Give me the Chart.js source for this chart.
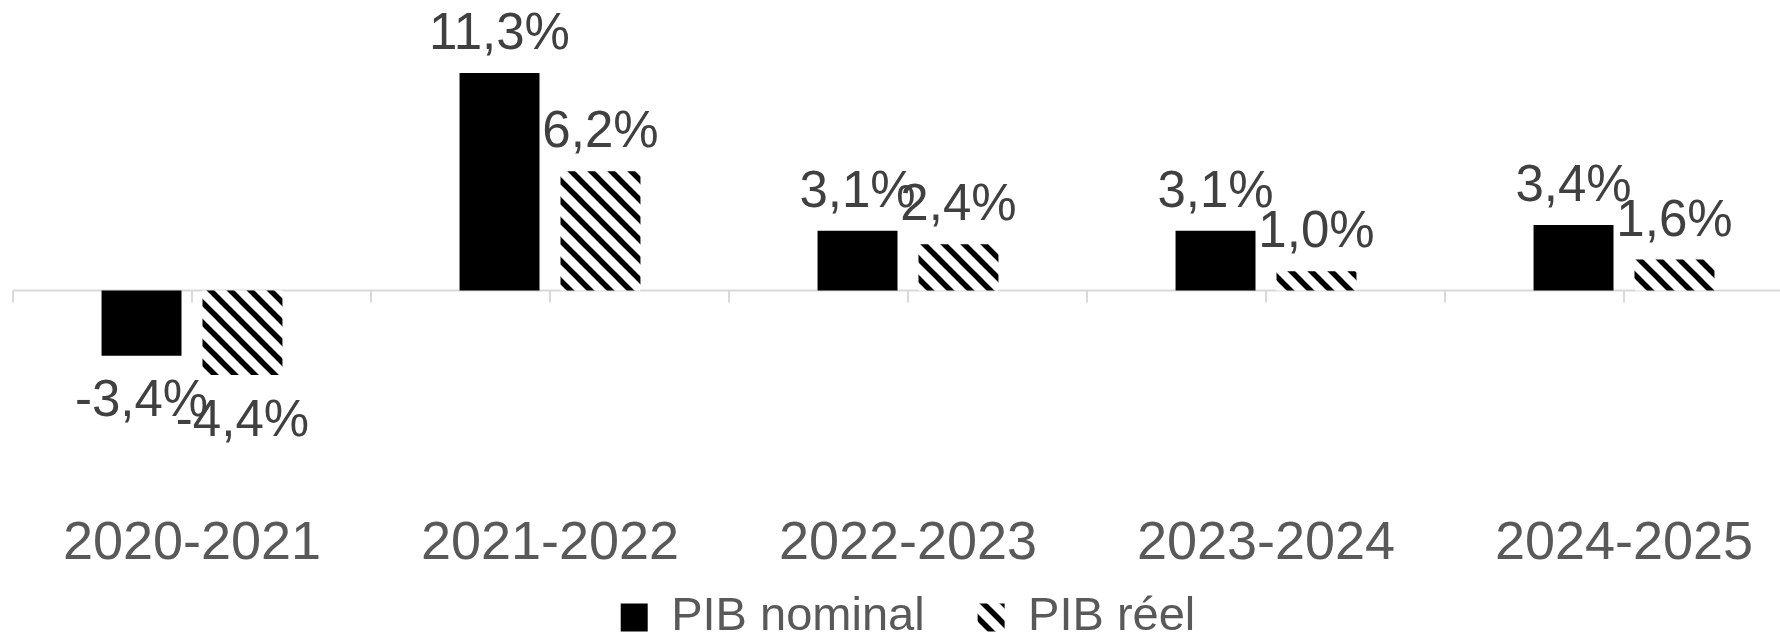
<!DOCTYPE html>
<html>
<head>
<meta charset="utf-8">
<script src="https://cdn.jsdelivr.net/npm/chart.js@4.4.1/dist/chart.umd.min.js"></script>
<style>
  html, body { margin: 0; padding: 0; background: #fff; overflow: hidden; }
  #wrap { width: 1803px; height: 637px; }
</style>
</head>
<body>
<div id="wrap"><canvas id="pibChart"></canvas></div>
<script>
const periods = ['2020-2021', '2021-2022', '2022-2023', '2023-2024', '2024-2025'];
const pibNominal = [-3.4, 11.3, 3.1, 3.1, 3.4];
const pibReel = [-4.4, 6.2, 2.4, 1.0, 1.6];
const seriesNames = ['PIB nominal', 'PIB réel'];

const FONT = '"Liberation Sans", Arial, sans-serif';

// hachures "\\\" pour le PIB réel
function makeHatch() {
    const size = 20;
    const c = document.createElement('canvas');
    c.width = size;
    c.height = size;
    const g = c.getContext('2d');
    g.fillStyle = '#fff';
    g.fillRect(0, 0, size, size);
    g.strokeStyle = '#000';
    g.lineWidth = 5.5;
    g.beginPath();
    g.moveTo(-5, -5); g.lineTo(size + 5, size + 5);
    g.moveTo(-5, size - 5); g.lineTo(5, size + 5);
    g.moveTo(size - 5, -5); g.lineTo(size + 5, 5);
    g.stroke();
    return g.createPattern(c, 'repeat');
}

function fmt(v) {
    return v.toFixed(1).replace('.', ',') + '%';
}

// ligne du zéro + petites graduations
const zeroAxis = {
    id: 'zeroAxis',
    beforeDatasetsDraw(chart) {
        const ctx = chart.ctx;
        const xs = chart.scales.x;
        const y0 = chart.scales.y.getPixelForValue(0);
        const half = (xs.getPixelForValue(1) - xs.getPixelForValue(0)) / 2;
        ctx.save();
        ctx.strokeStyle = '#d9d9d9';
        ctx.lineWidth = 2;
        ctx.beginPath();
        ctx.moveTo(chart.chartArea.left, y0);
        ctx.lineTo(chart.chartArea.right, y0);
        for (let i = 0; i < periods.length; i++) {
            const p = xs.getPixelForValue(i);
            ctx.moveTo(p - half, y0);
            ctx.lineTo(p - half, y0 + 12);
            ctx.moveTo(p, y0);
            ctx.lineTo(p, y0 + 12);
        }
        const last = xs.getPixelForValue(periods.length - 1) + half;
        ctx.moveTo(last, y0);
        ctx.lineTo(last, y0 + 12);
        ctx.stroke();
        ctx.restore();
    }
};

const valueLabels = {
    id: 'valueLabels',
    afterDatasetsDraw(chart) {
        const ctx = chart.ctx;
        const size = 51;
        ctx.save();
        ctx.font = size + 'px ' + FONT;
        ctx.fillStyle = '#404040';
        ctx.textAlign = 'center';
        ctx.textBaseline = 'alphabetic';
        chart.data.datasets.forEach((ds, di) => {
            chart.getDatasetMeta(di).data.forEach((bar, i) => {
                const v = ds.data[i];
                const y = v >= 0 ? bar.y - 24 : bar.y + 24 + size * 0.716;
                ctx.fillText(fmt(v), bar.x, y);
            });
        });
        ctx.restore();
    }
};

// la légende prend moins de place en hauteur (le padding sert surtout à espacer les items)
const legendPlace = {
    id: 'legendPlace',
    beforeLayout(chart) {
        const lg = chart.legend;
        if (lg && !lg._patched) {
            const fit = lg.fit;
            lg.fit = function () {
                fit.call(this);
                this.height = 60;
            };
            lg._patched = true;
        }
    },
    afterLayout(chart) {
        const lg = chart.legend;
        if (lg) {
            lg.top -= 36;
        }
    }
};

const ctx = document.getElementById('pibChart').getContext('2d');
const hatch = makeHatch();

window.pibChart = new Chart(ctx, {
    type: 'bar',
    data: {
        labels: periods,
        datasets: [
            {
                label: seriesNames[0],
                data: pibNominal,
                backgroundColor: '#000',
                borderWidth: 0
            },
            {
                label: seriesNames[1],
                data: pibReel,
                backgroundColor: hatch,
                borderWidth: 0
            }
        ]
    },
    options: {
        responsive: true,
        maintainAspectRatio: false,
        animation: false,
        categoryPercentage: 0.564,
        barPercentage: 0.792,
        layout: { padding: { left: 13, right: 0, top: 0, bottom: 0 } },
        plugins: {
            tooltip: { enabled: false },
            legend: {
                position: 'bottom',
                labels: {
                    boxWidth: 27,
                    boxHeight: 28,
                    padding: 53,
                    color: '#595959',
                    font: { family: FONT, size: 47 }
                }
            }
        },
        scales: {
            x: {
                grid: { display: false, drawTicks: false },
                border: { display: false },
                ticks: {
                    color: '#595959',
                    padding: 12,
                    font: { family: FONT, size: 54 }
                },
                afterFit(scale) { scale.height = 77; }
            },
            y: {
                display: false,
                min: -10.9,
                max: 15.1
            }
        }
    },
    plugins: [zeroAxis, valueLabels, legendPlace]
});
</script>
</body>
</html>
